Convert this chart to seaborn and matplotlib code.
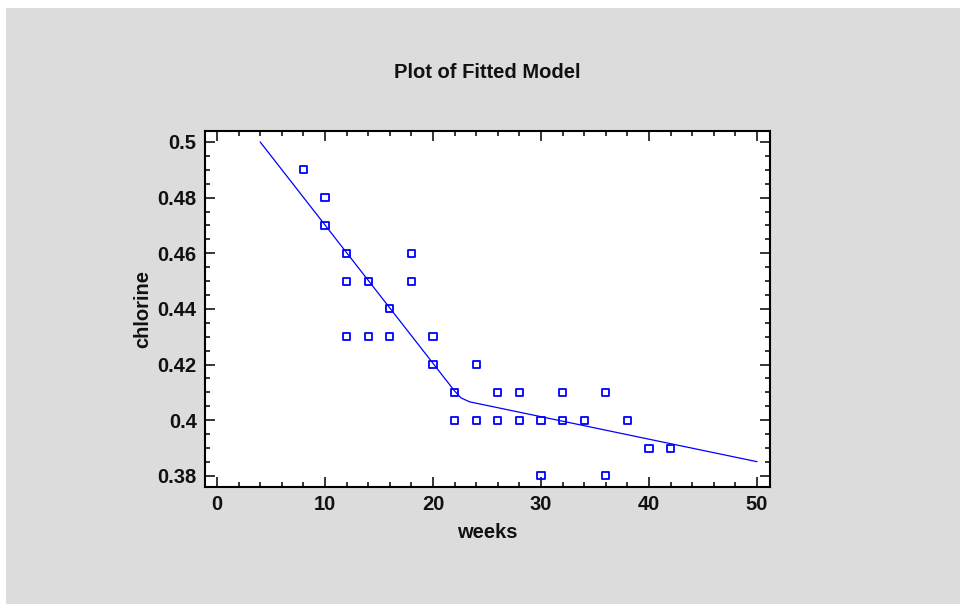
import numpy as np
import pandas as pd
import matplotlib
matplotlib.use("Agg")
import matplotlib.pyplot as plt
from matplotlib.ticker import MultipleLocator, FuncFormatter
from matplotlib.patches import Rectangle
import seaborn as sns

# observed data
weeks = [8, 10, 10, 12, 12, 12, 14, 14, 16, 16, 18, 18, 20, 20, 22, 22, 24, 24,
         26, 26, 28, 28, 30, 30, 32, 32, 34, 36, 36, 38, 40, 42]
chlorine = [0.49, 0.48, 0.47, 0.46, 0.45, 0.43, 0.45, 0.43, 0.44, 0.43, 0.46, 0.45,
            0.43, 0.42, 0.41, 0.40, 0.42, 0.40, 0.41, 0.40, 0.41, 0.40, 0.40, 0.38,
            0.41, 0.40, 0.40, 0.41, 0.38, 0.40, 0.39, 0.39]

# fitted model curve
fit_weeks = [4, 22, 22.6, 23.4, 50]
fit_chlorine = [0.500, 0.4105, 0.4080, 0.4066, 0.3851]

x_ticks = [0, 10, 20, 30, 40, 50]
y_ticks = [0.38, 0.40, 0.42, 0.44, 0.46, 0.48, 0.50]

title = "Plot of Fitted Model"
xlabel = "weeks"
ylabel = "chlorine"

obs = pd.DataFrame({"weeks": weeks, "chlorine": chlorine})
fit = pd.DataFrame({"weeks": fit_weeks, "chlorine": fit_chlorine})

sns.set_style("white")
plt.rcParams["font.family"] = ["Liberation Sans", "DejaVu Sans"]

BG = "#dcdcdc"
BLUE = "#0000ff"
TXT = "#111111"

fig = plt.figure(figsize=(9.6, 6.04), dpi=100, facecolor="white")
fig.patches.append(Rectangle((6 / 960, 0), 1, 1 - 8 / 604, transform=fig.transFigure,
                             facecolor=BG, edgecolor="none", zorder=-10))

ax = fig.add_axes([205 / 960, 1 - 487 / 604, 565 / 960, 356 / 604])
ax.set_facecolor("white")

sns.lineplot(data=fit, x="weeks", y="chlorine", ax=ax, color=BLUE, lw=0.9,
             sort=False, estimator=None)
sns.scatterplot(data=obs, x="weeks", y="chlorine", ax=ax, marker="s", s=26,
                facecolor="none", edgecolor=BLUE, linewidth=1.3, zorder=3)

ax.set_xlim(-1.11, 51.2)
ax.set_ylim(0.376, 0.50395)
ax.set_xticks(x_ticks)
ax.set_yticks(y_ticks)
ax.xaxis.set_minor_locator(MultipleLocator(2))
ax.yaxis.set_minor_locator(MultipleLocator(0.005))
ax.yaxis.set_major_formatter(FuncFormatter(lambda v, p: "%g" % round(v, 3)))
ax.xaxis.set_major_formatter(FuncFormatter(lambda v, p: "%g" % v))

for s in ax.spines.values():
    s.set_visible(True)
    s.set_linewidth(1.5)
    s.set_color("black")

ax.tick_params(which="both", direction="in", top=True, right=True, bottom=True, left=True,
               color="black", width=1.1)
ax.tick_params(which="major", length=7, labelsize=14.5, pad=6)
ax.tick_params(which="minor", length=3.5)
for lab in ax.get_xticklabels() + ax.get_yticklabels():
    lab.set_fontweight("bold")
    lab.set_color(TXT)

ax.set_xlabel(xlabel, fontsize=14.5, fontweight="bold", color=TXT)
ax.set_ylabel(ylabel, fontsize=14.5, fontweight="bold", color=TXT)
ax.xaxis.set_label_coords((487 - 205) / 565, (487 - 532) / 356)
ax.xaxis.label.set_va("center")
ax.yaxis.set_label_coords((143 - 205) / 565, 0.5)
ax.yaxis.label.set_va("center")

fig.text(487 / 960, 1 - 72 / 604, title, ha="center", va="center",
         fontsize=14.5, fontweight="bold", color=TXT)

fig.savefig("out.png", dpi=100, facecolor=fig.get_facecolor())
